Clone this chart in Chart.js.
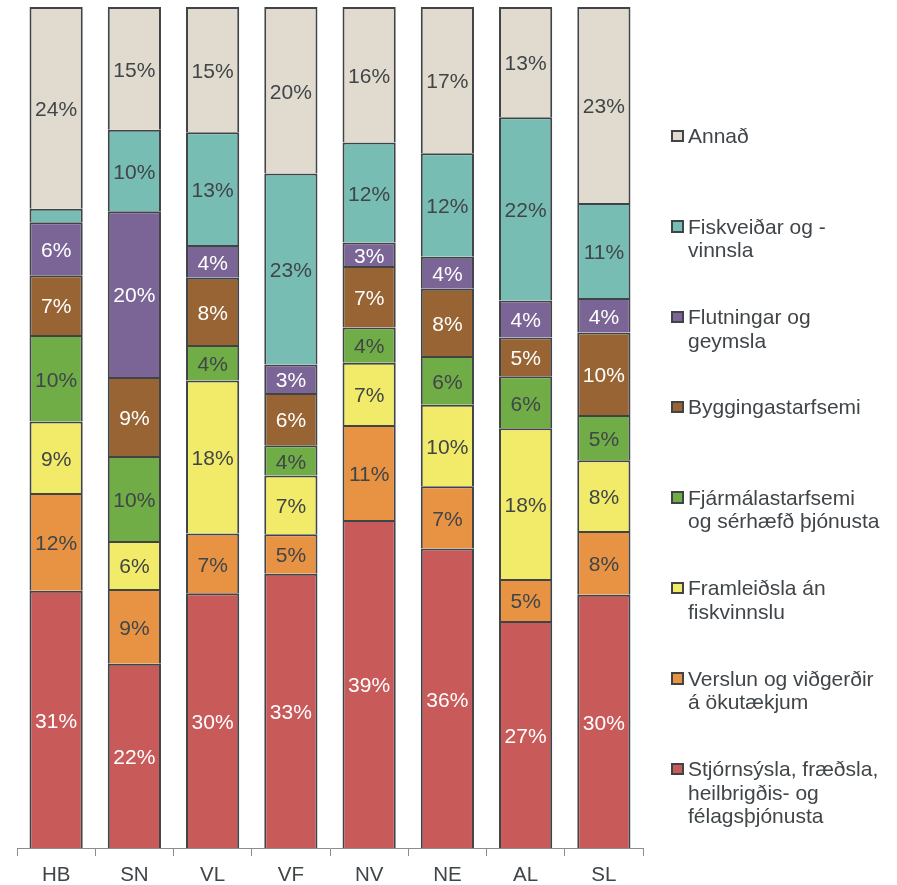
<!DOCTYPE html>
<html><head><meta charset="utf-8">
<script src="https://cdn.jsdelivr.net/npm/chart.js@4"></script>
<style>
html,body{margin:0;padding:0;background:#fff;}
#wrap{position:relative;width:897px;height:885px;overflow:hidden;}
#c{position:absolute;left:0;top:0;}
#legend{position:absolute;left:0;top:0;width:897px;height:885px;font-family:"Liberation Sans",Arial,sans-serif;font-size:21px;color:#404548;}
.item{position:absolute;left:671px;line-height:23.5px;}
.sw{position:absolute;left:0;top:5.5px;width:8.5px;height:8.5px;border:2px solid #404447;}
.tx{position:absolute;left:17px;top:0;white-space:nowrap;}
</style></head>
<body><div id="wrap"><canvas id="c" width="897" height="885"></canvas><div id="legend"></div></div>
<script>
const categories = ['HB','SN','VL','VF','NV','NE','AL','SL'];
// values in % of total (bottom to top of each bar)
const stjornsysla = [30.6, 21.9, 30.3, 32.6, 39.0, 35.6, 27.0, 30.1];
const verslun     = [11.6,  8.9,  7.1,  4.7, 11.3,  7.4,  5.0,  7.6];
const framleidsla = [ 8.5,  5.7, 18.2,  7.0,  7.4,  9.7, 17.9,  8.4];
const fjarmal     = [10.3, 10.1,  4.2,  3.6,  4.2,  5.8,  6.2,  5.4];
const bygging     = [ 7.1,  9.4,  8.0,  6.2,  7.3,  8.0,  4.6,  9.8];
const flutningar  = [ 6.3, 19.7,  3.9,  3.4,  2.8,  3.8,  4.4,  4.1];
const fiskveidar  = [ 1.6,  9.7, 13.4, 22.7, 11.9, 12.3, 21.8, 11.3];
const annad       = [24.0, 14.6, 14.9, 19.8, 16.1, 17.4, 13.1, 23.3];

const seriesNames = [
  ['Stjórnsýsla, fræðsla,','heilbrigðis- og','félagsþjónusta'],
  ['Verslun og viðgerðir','á ökutækjum'],
  ['Framleiðsla án','fiskvinnslu'],
  ['Fjármálastarfsemi','og sérhæfð þjónusta'],
  ['Byggingastarfsemi'],
  ['Flutningar og','geymsla'],
  ['Fiskveiðar og -','vinnsla'],
  ['Annað']
];
const seriesData = [stjornsysla, verslun, framleidsla, fjarmal, bygging, flutningar, fiskveidar, annad];
const seriesColors = ['#C85A5A','#E89344','#F2EB69','#70AD47','#986433','#7B6596','#77BDB3','#E0DBCE'];
const labelColors  = ['#ffffff','#404548','#404548','#404548','#ffffff','#ffffff','#404548','#404548'];

const labelPlugin = {
  id:'segLabels',
  afterDatasetsDraw(chart){
    const ctx = chart.ctx;
    ctx.save();
    ctx.font = '21px "Liberation Sans", Arial, sans-serif';
    ctx.textAlign = 'center';
    ctx.textBaseline = 'middle';
    chart.data.datasets.forEach((ds,i)=>{
      const meta = chart.getDatasetMeta(i);
      meta.data.forEach((bar,j)=>{
        const v = ds.data[j];
        if (v < 2.5) return;
        const p = bar.getProps(['x','y','base'], true);
        ctx.fillStyle = labelColors[i];
        ctx.fillText(Math.round(v) + '%', p.x, (p.y + p.base)/2 + 2.5);
      });
    });
    ctx.restore();
  }
};

new Chart(document.getElementById('c'), {
  type:'bar',
  data:{
    labels: categories,
    datasets: seriesData.map((d,i)=>({
      label: seriesNames[i].join(' '),
      data: d,
      backgroundColor: seriesColors[i],
      borderColor: '#404447',
      borderWidth: 2,
      barPercentage: 0.68,
      categoryPercentage: 1
    }))
  },
  options:{
    responsive:false,
    animation:false,
    layout:{padding:{left:17,right:254,top:7,bottom:0}},
    plugins:{legend:{display:false},tooltip:{enabled:false}},
    scales:{
      x:{
        stacked:true,
        grid:{offset:true,display:true,drawOnChartArea:false,drawTicks:true,tickLength:8,color:'#8c8c8c',lineWidth:1},
        border:{display:true,color:'#8c8c8c',width:1},
        ticks:{color:'#404548',font:{family:'"Liberation Sans", Arial, sans-serif',size:20.5},padding:7},
        afterFit:(s)=>{s.height=37;}
      },
      y:{stacked:true,min:0,max:100,display:false}
    }
  },
  plugins:[labelPlugin]
});

// HTML legend (top item = last series)
const legend = document.getElementById('legend');
for (let k=0;k<seriesNames.length;k++){
  const i = seriesNames.length-1-k;
  const item = document.createElement('div');
  item.className='item';
  item.style.top = (136 + k*90.4 - 11.75) + 'px';
  const sw = document.createElement('div');
  sw.className='sw';
  sw.style.background = seriesColors[i];
  const tx = document.createElement('div');
  tx.className='tx';
  tx.innerHTML = seriesNames[i].join('<br>');
  item.appendChild(sw); item.appendChild(tx);
  legend.appendChild(item);
}
</script>
</body></html>
